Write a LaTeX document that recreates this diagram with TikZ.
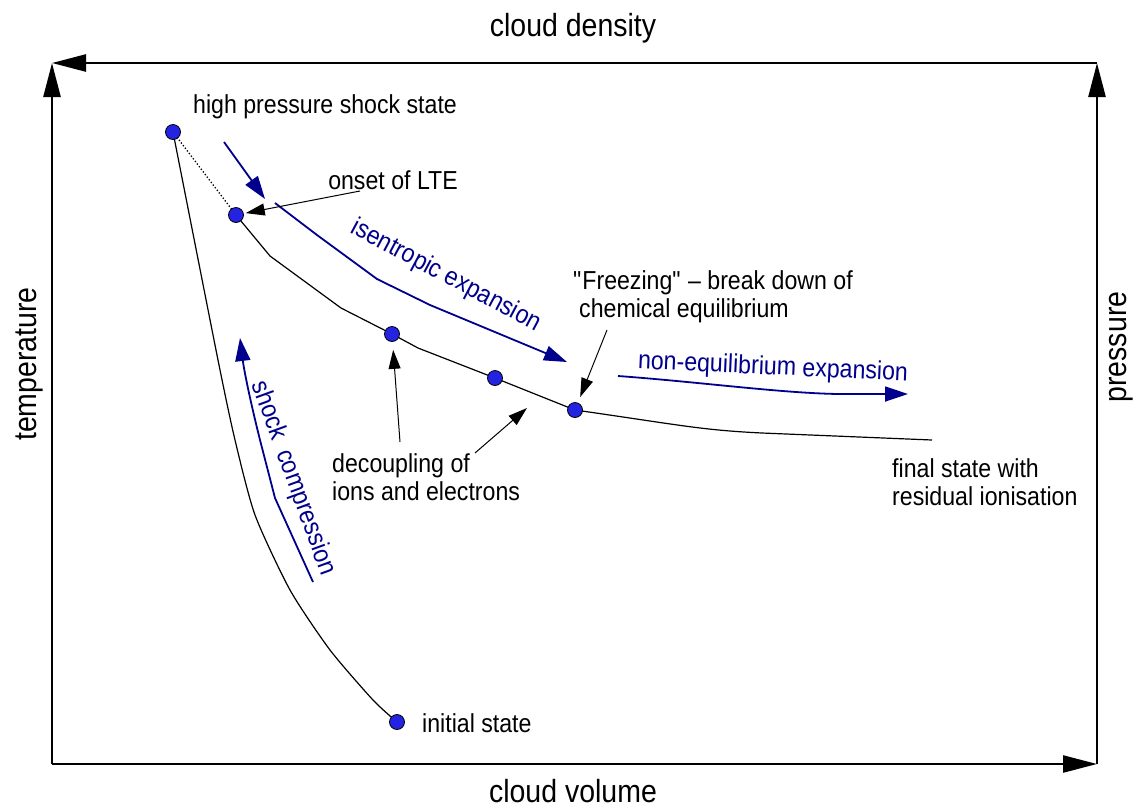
\documentclass[tikz,border=0pt]{standalone}
\usepackage{fontspec}
\setmainfont{Liberation Sans}[FakeStretch=0.89]
\usetikzlibrary{arrows.meta}
\definecolor{navy}{RGB}{0,0,140}
\definecolor{dotblue}{RGB}{35,35,225}
\begin{document}
\begin{tikzpicture}[x=1pt,y=-1pt,
  pt/.style={circle,draw=black,fill=dotblue,minimum size=15pt,inner sep=0pt,line width=0.8pt},
  curve/.style={line width=1.2pt},
  bluearrow/.style={navy,line width=1.8pt,-{Triangle[length=23pt,width=15pt]}},
  blackarrow/.style={line width=1pt,-{Triangle[length=19pt,width=12pt]}},
  axisarrow/.style={line width=2.5pt,-{Triangle[length=34pt,width=17pt]}},
  lbl/.style={font=\fontsize{26}{28}\selectfont,inner sep=0pt,align=left},
  bluelbl/.style={lbl,text=navy},
  big/.style={font=\fontsize{32}{36}\selectfont,inner sep=0pt}]
\useasboundingbox (0,0) rectangle (1141,807);

% frame corners
\coordinate (bl) at (52,764);
\coordinate (tl) at (52,63);
\coordinate (tr) at (1097,63);
\coordinate (br) at (1097,764);
\draw[line width=2.5pt] (tr) -- (1060,63);
\draw[axisarrow] (1060,63) -- (tl);
\draw[axisarrow] (bl) -- (tl);
\draw[axisarrow] (br) -- (tr);
\draw[axisarrow] (bl) -- (br);

% state points
\coordinate (c1) at (173,132);
\coordinate (c2) at (236,215);
\coordinate (c3) at (392,334);
\coordinate (c4) at (495,378);
\coordinate (c5) at (575,410);
\coordinate (c0) at (397,722);
\coordinate (cend) at (932,440);

% curves
\draw[curve] plot[smooth,tension=0.4] coordinates {(173,132) (218,360) (235,440) (255,515) (290,590) (330,650) (373,700) (397,722)};
\draw[line width=1.3pt,dotted] (c1) -- (c2);
\draw[curve] (c2) -- (270,256) -- (341,308) -- (c3) -- (418,348) -- (c4) -- (c5);
\draw[curve] (c5) .. controls (680,425) and (700,430) .. (762,433) -- (cend);

\node[pt] (p1) at (c1) {};
\node[pt] (p2) at (c2) {};
\node[pt] (p3) at (c3) {};
\node[pt] (p4) at (c4) {};
\node[pt] (p5) at (c5) {};
\node[pt] (p0) at (c0) {};

% labels
\node[lbl,anchor=west] (lhigh) at (193,107) {high pressure shock state};
\node[lbl] (lonset) at (393,180) {onset of LTE};
\node[lbl,anchor=west] (lfreeze) at (573,297) {\textquotedbl Freezing\textquotedbl\ -- break down of\\ \hspace*{6pt}chemical equilibrium};
\node[lbl,anchor=west] (ldec) at (332,477) {decoupling of\\ions and electrons};
\node[lbl,anchor=west] (lfinal) at (892,482) {final state with\\residual ionisation};
\node[lbl,anchor=west] (linit) at (422,723) {initial state};

\node[big] (tdens) at (573,28) {cloud density};
\node[big] (tvol) at (573,791) {cloud volume};
\node[big,rotate=90] (ttemp) at (29,364) {temperature};
\node[big,rotate=90] (tpres) at (1121,347) {pressure};

% blue process arrows
\coordinate (b1s) at (224,142);
\coordinate (b1e) at (265,199);
\draw[bluearrow] (b1s) -- (b1e);
\coordinate (b2s) at (275,203);
\coordinate (b2e) at (567,362);
\draw[bluearrow] (b2s) -- (317,235) -- (377,279) -- (430,305) -- (b2e);
\node[bluelbl,rotate=-28] (lisen) at (446,276) {isentropic expansion};
\coordinate (b3s) at (618,376);
\coordinate (b3e) at (908,394);
\draw[bluearrow] (b3s) .. controls (700,382) and (780,393) .. (838,394) -- (b3e);
\node[bluelbl,rotate=-2.5] (lneq) at (773,368) {non-equilibrium expansion};
\coordinate (b4s) at (313,582);
\coordinate (b4e) at (240,338);
\draw[bluearrow] (b4s) -- (275,498) -- (260,440) .. controls (250,400) and (244,370) .. (b4e);
\node[bluelbl,rotate=-70] (lshock) at (293,478) {shock\ \ compression};

% black pointer arrows
\coordinate (a1s) at (360,191);
\draw[blackarrow,shorten >=2pt] (a1s) -- (p2);
\coordinate (a2s) at (607,330);
\draw[blackarrow,shorten >=6pt] (a2s) -- (p5);
\coordinate (a3s) at (400,442);
\draw[blackarrow,shorten >=8pt] (a3s) -- (p3);
\coordinate (a4s) at (475,453);
\coordinate (a4e) at (527,408);
\draw[blackarrow] (a4s) -- (a4e);
\end{tikzpicture}
\end{document}
